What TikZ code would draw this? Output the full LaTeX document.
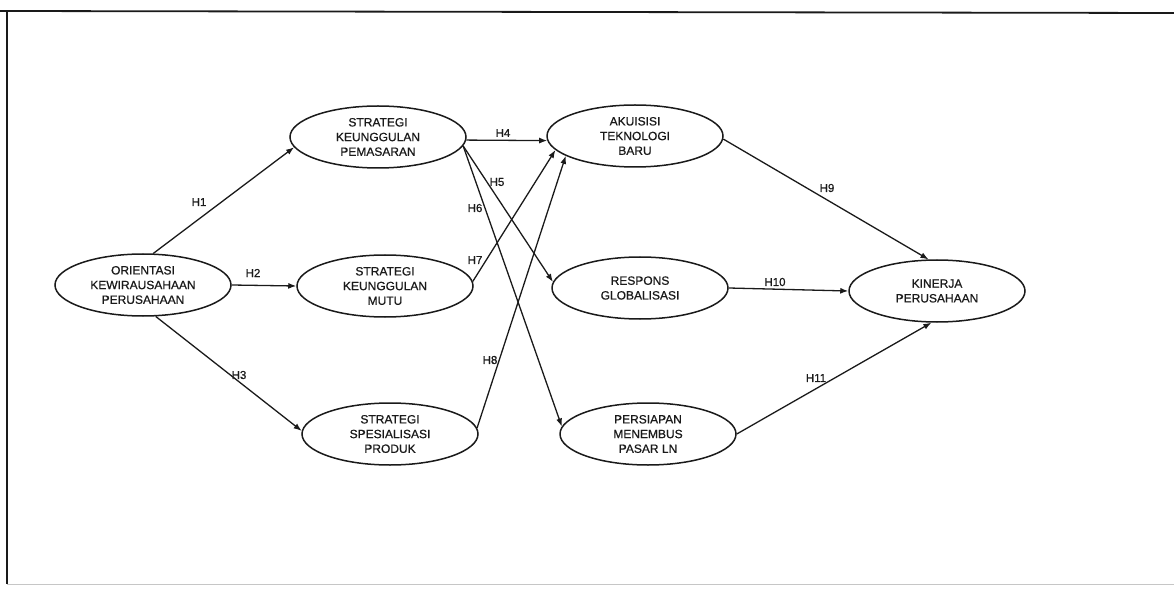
\documentclass[tikz,border=0pt]{standalone}
\usepackage{fontspec}
\setmainfont{Liberation Sans}
\newfontfamily\scanfont[FakeBold=0.8]{Liberation Sans}
\usetikzlibrary{shapes.geometric,arrows.meta}
\definecolor{ink}{HTML}{1A1A1A}
\tikzset{
  construct/.style={ellipse, draw=ink, line width=1.5pt, minimum width=176pt, minimum height=62pt, inner sep=0pt, align=center, text=ink, font=\scanfont\fontsize{12}{14.7}\selectfont},
  path/.style={draw=ink, line width=1.3pt, -{Latex[length=8pt,width=6pt]}},
  hyp/.style={text=ink, font=\scanfont\fontsize{11.5}{12}\selectfont, inner sep=0pt},
  frame/.style={draw=ink, line width=1.8pt}
}
\begin{document}
\begin{tikzpicture}[x=1pt,y=-1pt]
\useasboundingbox (0,0) rectangle (1174,593);
% frame
\coordinate (ftl) at (7,11);
\coordinate (ftr) at (1174,13);
\coordinate (fl0) at (0,11);
\coordinate (fbl) at (7,584);
\coordinate (fbr) at (1174,584);
\draw[frame] (fl0) -- (ftr);
\draw[frame, line width=1.5pt] (ftl) -- (fbl);
\draw[gray!45, line width=0.8pt] (fbl) -- (fbr);
% constructs
\node[construct] (or)  at (143,285) {ORIENTASI\\KEWIRAUSAHAAN\\PERUSAHAAN};
\node[construct] (skp) at (378,137) {STRATEGI\\KEUNGGULAN\\PEMASARAN};
\node[construct] (skm) at (385,286) {STRATEGI\\KEUNGGULAN\\MUTU};
\node[construct] (ssp) at (390,434) {STRATEGI\\SPESIALISASI\\PRODUK};
\node[construct] (atb) at (635,136) {AKUISISI\\TEKNOLOGI\\BARU};
\node[construct] (rg)  at (640,288) {RESPONS\\GLOBALISASI};
\node[construct] (pml) at (648,434) {PERSIAPAN\\MENEMBUS\\PASAR LN};
\node[construct] (np)  at (937,291) {KINERJA\\PERUSAHAAN};
% paths
\draw[path] (or.72) -- (skp.187);
\draw[path] (or.0) -- (skm.180);
\draw[path] (or.-68) -- (ssp.178);
\draw[path] (skp.-2) -- (atb.183);
\draw[path] (skp.-6) -- (rg.176);
\draw[path] (skp.-6) -- (pml.175);
\draw[path] (skm.3) -- (atb.190);
\draw[path] (ssp.4) -- (atb.196);
\draw[path] (atb.-2) -- (np.105);
\draw[path] (rg.0) -- (np.180);
\draw[path] (pml.0) -- (np.-100);
% hypothesis labels
\node[hyp] (h1)  at (199,202) {H1};
\node[hyp] (h2)  at (253,273) {H2};
\node[hyp] (h3)  at (239,375) {H3};
\node[hyp] (h4)  at (503,133) {H4};
\node[hyp] (h5)  at (497,182) {H5};
\node[hyp] (h6)  at (475,208) {H6};
\node[hyp] (h7)  at (475,260) {H7};
\node[hyp] (h8)  at (490,360) {H8};
\node[hyp] (h9)  at (827,188) {H9};
\node[hyp] (h10) at (775,282) {H10};
\node[hyp] (h11) at (816,378) {H11};
\end{tikzpicture}
\end{document}
